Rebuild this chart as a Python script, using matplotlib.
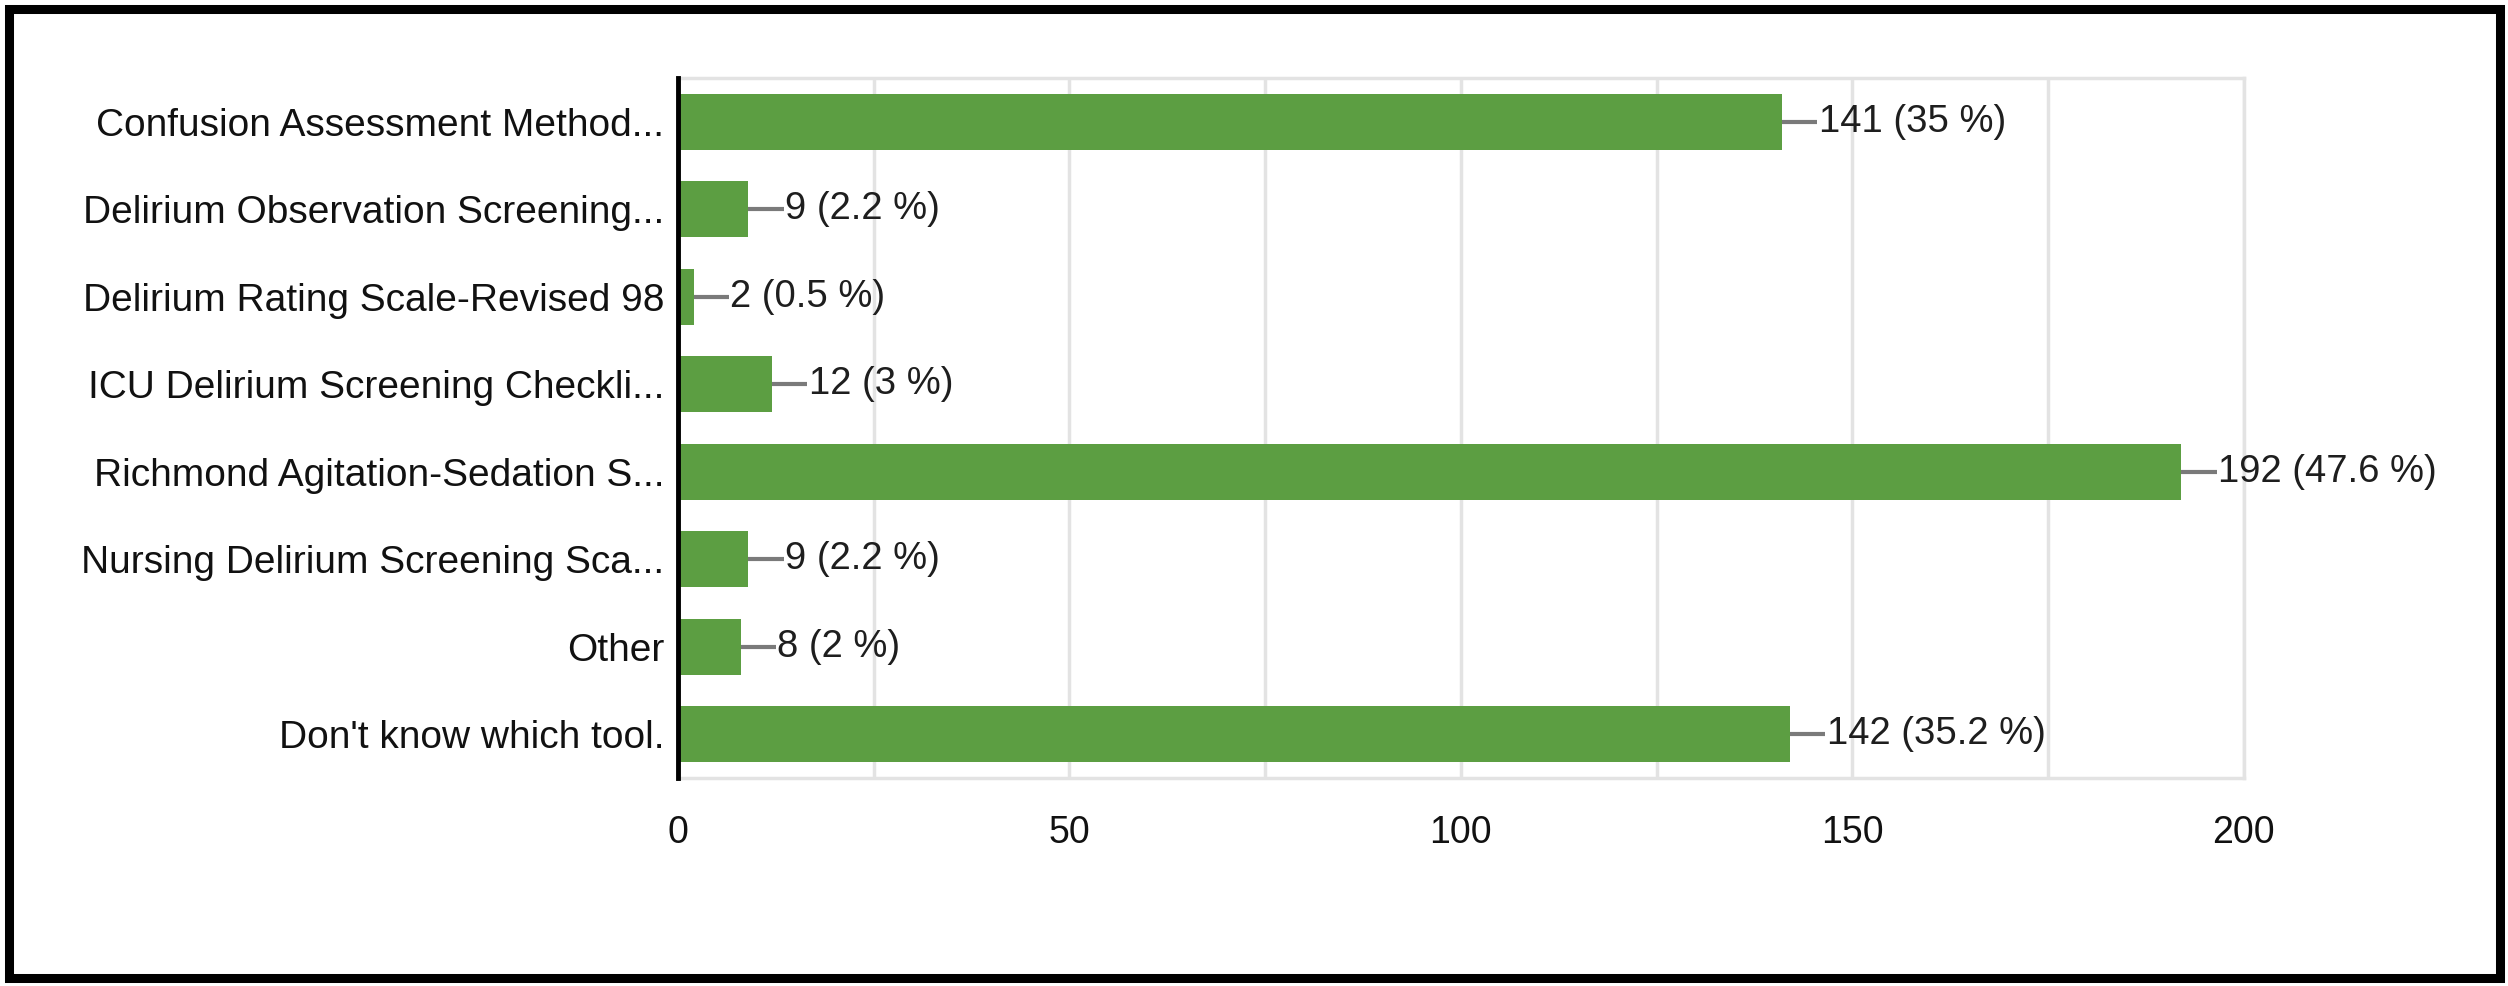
import matplotlib
matplotlib.use("Agg")
import matplotlib.pyplot as plt
from matplotlib.patches import Rectangle

plt.rcParams['font.family'] = ['Liberation Sans', 'DejaVu Sans']

# data
tools = ["Confusion Assessment Method...",
         "Delirium Observation Screening...",
         "Delirium Rating Scale-Revised 98",
         "ICU Delirium Screening Checkli...",
         "Richmond Agitation-Sedation S...",
         "Nursing Delirium Screening Sca...",
         "Other",
         "Don't know which tool."]
counts = [141, 9, 2, 12, 192, 9, 8, 142]
pcts = ["35", "2.2", "0.5", "3", "47.6", "2.2", "2", "35.2"]
xticks = [0, 50, 100, 150, 200]

bar_col = '#5c9e42'
grid_col = '#e3e3e3'

fig = plt.figure(figsize=(25.08, 9.86), dpi=100)
ax = fig.add_axes([0.2703, 0.211, 0.6244, 0.710])

ypos = list(range(len(tools)))
ax.barh(ypos, counts, height=0.64, color=bar_col, zorder=3)

# leader lines + value labels
for y, c, p in zip(ypos, counts, pcts):
    ax.plot([c, c + 4.5], [y, y], color='#7a7a7a', lw=3, zorder=4, solid_capstyle='butt')
    ax.text(c + 4.7, y, f"{c} ({p} %)", va='center', ha='left',
            fontsize=27.5, color='#1e1e1e', zorder=5)

ax.set_ylim(len(tools) - 0.5, -0.5)
ax.set_xlim(0, 200)
ax.set_yticks(ypos)
ax.set_yticklabels(tools, fontsize=28, color='#111111')
ax.set_xticks(xticks)
ax.set_xticklabels([str(t) for t in xticks], fontsize=27, color='#111111')
ax.set_xticks(range(0, 201, 25), minor=True)
ax.tick_params(axis='both', length=0, which='both')
ax.tick_params(axis='y', pad=10)
ax.tick_params(axis='x', pad=27)

ax.grid(True, axis='x', which='both', color=grid_col, lw=2.5, zorder=0)
ax.set_axisbelow(True)
for s in ['top', 'right', 'bottom']:
    ax.spines[s].set_color(grid_col)
    ax.spines[s].set_linewidth(2.5)
ax.spines['left'].set_color('black')
ax.spines['left'].set_linewidth(3.5)
ax.spines['left'].set_zorder(6)

# outer frame
fig.patches.append(Rectangle((0.0035, 0.0085), 0.9935, 0.982, transform=fig.transFigure,
                             fill=False, edgecolor='black', lw=6.5))

fig.savefig("out.png", dpi=100)
